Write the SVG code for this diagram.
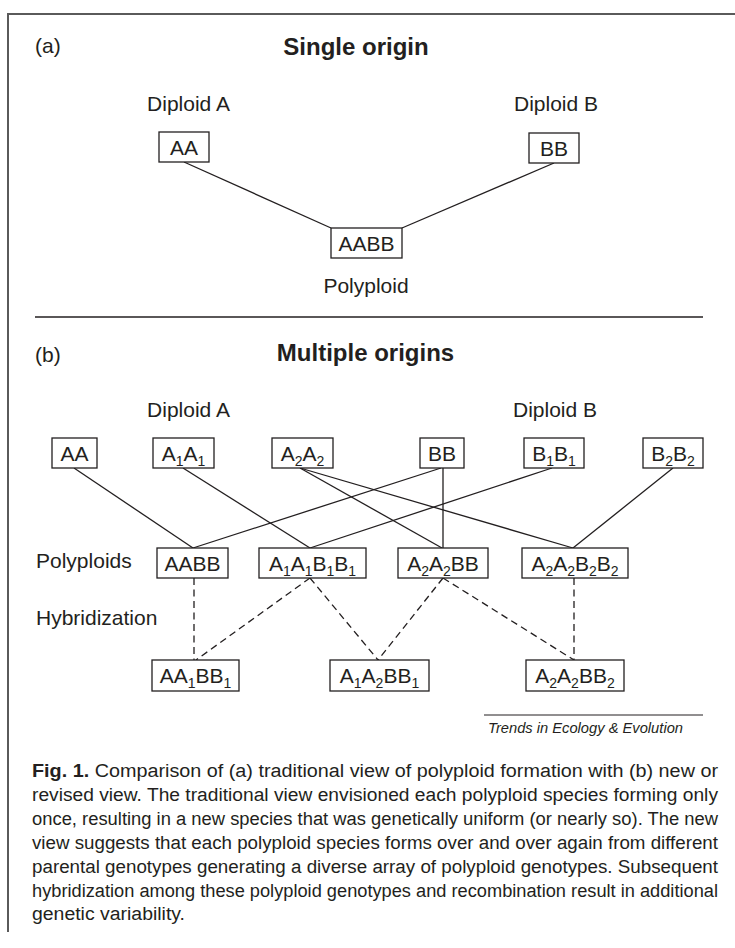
<svg xmlns="http://www.w3.org/2000/svg" width="735" height="948" viewBox="0 0 735 948">
<style>
text{font-family:"Liberation Sans",Arial,sans-serif;fill:#231f20}
.lbl{font-size:21px}
.ttl{font-size:24px;font-weight:bold}
.box rect{fill:#fff;stroke:#231f20;stroke-width:1.3}
.box text{font-size:21px;text-anchor:middle}
.sub{font-size:14px}
.solid line{stroke:#231f20;stroke-width:1.3}
.dash line{stroke:#231f20;stroke-width:1.3;stroke-dasharray:7 4.5}
.cap{font-size:18px}
</style>
<g id="frame" fill="none" stroke="#5a5a5a" stroke-width="2">
<line x1="8" y1="14" x2="735" y2="14"/>
<line x1="8" y1="13" x2="8" y2="932"/>
</g>
<g id="panel-a-labels">
<text class="lbl" x="35" y="53">(a)</text>
<text class="ttl" x="356" y="55" text-anchor="middle">Single origin</text>
<text class="lbl" x="188.5" y="111" text-anchor="middle">Diploid A</text>
<text class="lbl" x="556" y="111" text-anchor="middle">Diploid B</text>
<text class="lbl" x="366" y="293" text-anchor="middle">Polyploid</text>
</g>
<line id="separator" x1="35" y1="317" x2="703" y2="317" stroke="#231f20" stroke-width="1.6"/>
<g id="connectors-a" class="solid">
<line x1="184" y1="162" x2="331" y2="228"/>
<line x1="554" y1="163" x2="402" y2="228"/>
</g>
<g id="a-AA" class="box"><rect x="159" y="132" width="50" height="30"/><text x="184" y="155">AA</text></g>
<g id="a-BB" class="box"><rect x="529" y="133" width="50" height="30"/><text x="554" y="156">BB</text></g>
<g id="a-AABB" class="box"><rect x="331" y="228" width="71" height="30"/><text x="366.5" y="251">AABB</text></g>

<g id="panel-b-labels">
<text class="lbl" x="35" y="362">(b)</text>
<text class="ttl" x="365.5" y="361" text-anchor="middle">Multiple origins</text>
<text class="lbl" x="188.5" y="417" text-anchor="middle">Diploid A</text>
<text class="lbl" x="555" y="417" text-anchor="middle">Diploid B</text>
<text class="lbl" x="36" y="568">Polyploids</text>
<text class="lbl" x="36" y="625">Hybridization</text>
</g>
<g id="connectors-b" class="solid">
<line x1="74" y1="468" x2="193" y2="548"/>
<line x1="183" y1="468" x2="310" y2="548"/>
<line x1="300" y1="468" x2="442" y2="548"/>
<line x1="300" y1="468" x2="573" y2="548"/>
<line x1="441" y1="468" x2="193" y2="548"/>
<line x1="443" y1="468" x2="443" y2="548"/>
<line x1="552" y1="468" x2="310" y2="548"/>
<line x1="673" y1="468" x2="573" y2="548"/>
</g>
<g id="connectors-hyb" class="dash">
<line x1="194" y1="578" x2="194" y2="660"/>
<line x1="310" y1="578" x2="196" y2="660"/>
<line x1="310" y1="578" x2="378" y2="660"/>
<line x1="443" y1="578" x2="378" y2="660"/>
<line x1="443" y1="578" x2="574" y2="660"/>
<line x1="574" y1="578" x2="574" y2="660"/>
</g>
<g id="b-AA" class="box"><rect x="52" y="438" width="45" height="30"/><text x="74.5" y="461">AA</text></g>
<g id="b-A1A1" class="box"><rect x="153" y="438" width="61" height="30"/><text x="183.5" y="461">A<tspan class="sub" dy="5">1</tspan><tspan dy="-5">A</tspan><tspan class="sub" dy="5">1</tspan></text></g>
<g id="b-A2A2" class="box"><rect x="272" y="438" width="61" height="30"/><text x="302.5" y="461">A<tspan class="sub" dy="5">2</tspan><tspan dy="-5">A</tspan><tspan class="sub" dy="5">2</tspan></text></g>
<g id="b-BB" class="box"><rect x="420" y="438" width="44" height="30"/><text x="442" y="461">BB</text></g>
<g id="b-B1B1" class="box"><rect x="524" y="438" width="60" height="30"/><text x="554" y="461">B<tspan class="sub" dy="5">1</tspan><tspan dy="-5">B</tspan><tspan class="sub" dy="5">1</tspan></text></g>
<g id="b-B2B2" class="box"><rect x="643" y="438" width="60" height="30"/><text x="673" y="461">B<tspan class="sub" dy="5">2</tspan><tspan dy="-5">B</tspan><tspan class="sub" dy="5">2</tspan></text></g>

<g id="p-AABB" class="box"><rect x="157" y="548" width="71" height="30"/><text x="192.5" y="571">AABB</text></g>
<g id="p-A1A1B1B1" class="box"><rect x="259" y="548" width="107" height="30"/><text x="312.5" y="571">A<tspan class="sub" dy="5">1</tspan><tspan dy="-5">A</tspan><tspan class="sub" dy="5">1</tspan><tspan dy="-5">B</tspan><tspan class="sub" dy="5">1</tspan><tspan dy="-5">B</tspan><tspan class="sub" dy="5">1</tspan></text></g>
<g id="p-A2A2BB" class="box"><rect x="398" y="548" width="90" height="30"/><text x="443" y="571">A<tspan class="sub" dy="5">2</tspan><tspan dy="-5">A</tspan><tspan class="sub" dy="5">2</tspan><tspan dy="-5">BB</tspan></text></g>
<g id="p-A2A2B2B2" class="box"><rect x="522" y="548" width="106" height="30"/><text x="575" y="571">A<tspan class="sub" dy="5">2</tspan><tspan dy="-5">A</tspan><tspan class="sub" dy="5">2</tspan><tspan dy="-5">B</tspan><tspan class="sub" dy="5">2</tspan><tspan dy="-5">B</tspan><tspan class="sub" dy="5">2</tspan></text></g>

<g id="h-AA1BB1" class="box"><rect x="152" y="660" width="87" height="31"/><text x="195.5" y="683">AA<tspan class="sub" dy="5">1</tspan><tspan dy="-5">BB</tspan><tspan class="sub" dy="5">1</tspan></text></g>
<g id="h-A1A2BB1" class="box"><rect x="330" y="660" width="99" height="31"/><text x="379.5" y="683">A<tspan class="sub" dy="5">1</tspan><tspan dy="-5">A</tspan><tspan class="sub" dy="5">2</tspan><tspan dy="-5">BB</tspan><tspan class="sub" dy="5">1</tspan></text></g>
<g id="h-A2A2BB2" class="box"><rect x="526" y="660" width="98" height="31"/><text x="575" y="683">A<tspan class="sub" dy="5">2</tspan><tspan dy="-5">A</tspan><tspan class="sub" dy="5">2</tspan><tspan dy="-5">BB</tspan><tspan class="sub" dy="5">2</tspan></text></g>

<g id="credit">
<line x1="484" y1="715" x2="703" y2="715" stroke="#231f20" stroke-width="1"/>
<text x="488" y="733" font-size="15" font-style="italic" textLength="195" lengthAdjust="spacingAndGlyphs">Trends in Ecology &amp; Evolution</text>
</g>
<g id="caption" class="cap">
<text x="32" y="777" textLength="686" lengthAdjust="spacingAndGlyphs"><tspan font-weight="bold">Fig. 1.</tspan> Comparison of (a) traditional view of polyploid formation with (b) new or</text>
<text x="32" y="801" textLength="686" lengthAdjust="spacingAndGlyphs">revised view. The traditional view envisioned each polyploid species forming only</text>
<text x="32" y="825" textLength="686" lengthAdjust="spacingAndGlyphs">once, resulting in a new species that was genetically uniform (or nearly so). The new</text>
<text x="32" y="849" textLength="686" lengthAdjust="spacingAndGlyphs">view suggests that each polyploid species forms over and over again from different</text>
<text x="32" y="873" textLength="686" lengthAdjust="spacingAndGlyphs">parental genotypes generating a diverse array of polyploid genotypes. Subsequent</text>
<text x="32" y="897" textLength="686" lengthAdjust="spacingAndGlyphs">hybridization among these polyploid genotypes and recombination result in additional</text>
<text x="32" y="920" textLength="153" lengthAdjust="spacingAndGlyphs">genetic variability.</text>
</g>
</svg>
